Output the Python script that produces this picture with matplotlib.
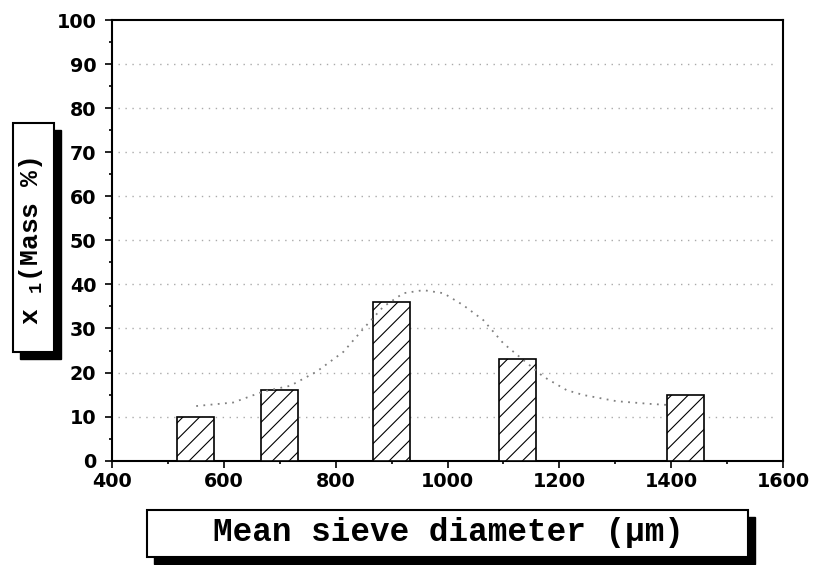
import matplotlib
matplotlib.use("Agg")
import matplotlib.pyplot as plt
from matplotlib.patches import Rectangle
from matplotlib.ticker import MultipleLocator

# sieve fractions (bars)
diameters = [550, 700, 900, 1125, 1425]
mass_pct = [10, 16, 36, 23, 15]
bar_width = 66

# dotted fitted curve
curve_x = [551, 617, 671, 719, 766, 814, 850, 885, 921, 957, 993, 1028,
           1064, 1100, 1135, 1171, 1213, 1243, 1302, 1361, 1400]
curve_y = [12.4, 13.2, 15.7, 17.0, 20.2, 24.7, 30.0, 34.9, 38.0, 38.7, 38.0, 35.3,
           31.9, 26.6, 22.9, 19.1, 16.0, 14.9, 13.5, 12.9, 12.6]

x_ticks = [400, 600, 800, 1000, 1200, 1400, 1600]
y_ticks = [0, 10, 20, 30, 40, 50, 60, 70, 80, 90, 100]

W, H = 819, 565
plt.rcParams['hatch.linewidth'] = 0.8

fig = plt.figure(figsize=(W / 100, H / 100), dpi=100)
ax = fig.add_axes([111.7 / W, 1 - 460.7 / H, (783.3 - 111.7) / W, (460.7 - 20) / H])

ax.bar(diameters, mass_pct, width=bar_width, color='white', edgecolor='black',
       linewidth=1.2, hatch='//', zorder=3)
ax.plot(curve_x, curve_y, color='#808080', lw=1.3, linestyle=(0, (1, 3)), zorder=4)

for v in y_ticks[1:-1]:
    ax.axhline(v, xmin=0.01, xmax=0.99, color='#aaaaaa', lw=1, linestyle=(0, (1, 4)), zorder=1)

ax.set_xlim(400, 1600)
ax.set_ylim(0, 100)
ax.set_xticks(x_ticks)
ax.set_yticks(y_ticks)
ax.xaxis.set_minor_locator(MultipleLocator(100))
ax.yaxis.set_minor_locator(MultipleLocator(5))
ax.tick_params(which='major', direction='out', length=5, width=1.2)
ax.tick_params(which='minor', direction='out', length=2.5, width=1.2)
ax.tick_params(axis='x', which='major', pad=3)
ax.tick_params(axis='y', which='major', pad=6)
for lab in ax.get_xticklabels() + ax.get_yticklabels():
    lab.set_fontfamily('DejaVu Sans')
    lab.set_fontweight('heavy')
    lab.set_fontsize(13.8)
for s in ax.spines.values():
    s.set_linewidth(1.5)


def label_box(x0, y0, x1, y1, off=7):
    # shadow first, then the white box, in pixel coords (y measured from top)
    sh = Rectangle(((x0 + off) / W, 1 - (y1 + off) / H), (x1 - x0) / W, (y1 - y0) / H,
                   transform=fig.transFigure, facecolor='black', edgecolor='black')
    bx = Rectangle((x0 / W, 1 - y1 / H), (x1 - x0) / W, (y1 - y0) / H,
                   transform=fig.transFigure, facecolor='white', edgecolor='black', lw=1.5)
    fig.patches.extend([sh, bx])


label_box(147, 510, 748, 557)
label_box(13, 123, 54, 352)

plt.rcParams['mathtext.default'] = 'regular'
fig.text(448 / W, 1 - 532 / H, 'Mean sieve diameter (\u03bcm)', ha='center', va='center',
         family=['Liberation Mono', 'DejaVu Sans Mono'], weight='bold', fontsize=23.5)
fig.text(31 / W, 1 - 241 / H, 'x $_1$(Mass %)', ha='center', va='center', rotation=90,
         family=['Liberation Mono', 'DejaVu Sans Mono'], weight='bold', fontsize=19)

fig.savefig('out.png', dpi=100)
